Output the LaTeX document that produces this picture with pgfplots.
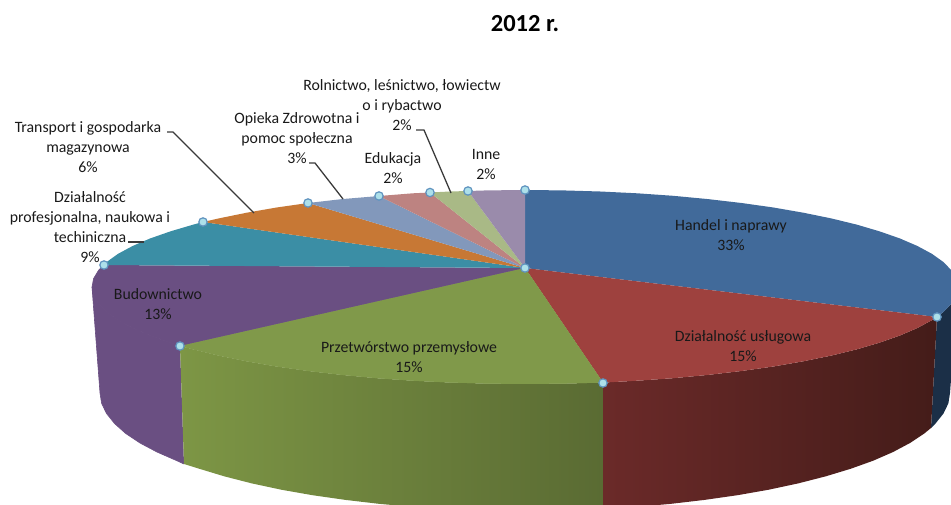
\documentclass[border=0pt]{standalone}
\usepackage{pgfplots}
\pgfplotsset{compat=1.18}
\usepackage{fontspec}
\setmainfont{Carlito}
\definecolor{cblue}{HTML}{416A9A}
\definecolor{cbluew}{HTML}{1B2F47}
\definecolor{cred}{HTML}{9E413E}
\definecolor{cgreen}{HTML}{80994A}
\definecolor{cpurple}{HTML}{6A4F82}
\definecolor{cteal}{HTML}{3B8EA5}
\definecolor{corange}{HTML}{C77835}
\definecolor{cbg}{HTML}{8298BB}
\definecolor{cpink}{HTML}{BD8381}
\definecolor{clg}{HTML}{A9B986}
\definecolor{cmauve}{HTML}{9A8BAB}
\definecolor{cmark}{HTML}{ADE0EA}
\definecolor{cmarkb}{HTML}{5F93BF}
\definecolor{lead}{HTML}{3A3A3A}
\begin{document}
\begin{tikzpicture}
\path[use as bounding box] (0,0) rectangle (951pt,505pt);
\begin{axis}[
  at={(0,0)}, anchor=south west,
  scale only axis, width=951pt, height=505pt,
  xmin=0, xmax=951, ymin=0, ymax=505, y dir=reverse,
  hide axis, clip=true,
  every axis plot/.append style={forget plot},
]
% --- walls
\addplot[draw=none, fill=cbluew] coordinates {(937,317)(943.2,312.1)(951.4,303.8)(956.4,295.5)(958,287)(950,393)(948.4,403.3)(943.5,413.5)(935.5,423.5)(931,428)};
\addplot[draw=cpurple, line width=0.6pt, fill=cpurple] coordinates {(180,346)(170.3,342.6)(150,335.5)(132.6,328)(118.1,320.2)(106.8,312.1)(98.6,303.8)(93.6,295.5)(92,287)(100,393)(101.6,403.3)(106.5,413.5)(114.5,423.5)(125.6,433.4)(139.8,442.9)(156.9,452)(176.8,460.7)(184,464)};
\addplot[draw=none, left color={rgb,255:red,125;green,150;blue,69}, right color={rgb,255:red,90;green,107;blue,51}] coordinates {(180,346)(193.3,349.4)(218.8,355.6)(246.7,361.3)(276.6,366.5)(308.5,371)(342,374.9)(376.9,378.2)(412.9,380.7)(449.8,382.5)(487.2,383.6)(525,384)(562.8,383.6)(603,382.6)(603,509)(562,510.6)(525,511)(488,510.6)(451.2,509.2)(415,507)(379.6,503.9)(345.4,499.9)(312.5,495.2)(281.2,489.7)(251.8,483.4)(224.5,476.4)(199.4,468.8)(184,464)};
\addplot[draw=none, left color={rgb,255:red,107;green,42;blue,41}, middle color={rgb,255:red,77;green,32;blue,30}, right color={rgb,255:red,68;green,28;blue,25}] coordinates {(603,382.6)(637.1,380.7)(673.1,378.2)(708,374.9)(741.5,371)(773.4,366.5)(803.3,361.3)(831.2,355.6)(856.7,349.4)(879.7,342.6)(900,335.5)(917.4,328)(931.9,320.2)(937,317)(931,428)(924.4,433.4)(910.2,442.9)(893.1,452)(873.2,460.7)(850.6,468.8)(825.5,476.4)(798.2,483.4)(768.8,489.7)(737.5,495.2)(704.6,499.9)(670.4,503.9)(635,507)(603,509)};
% --- top faces
\addplot[draw=none, fill=cblue] coordinates {(525,268)(937,317)(943.2,312.1)(951.4,303.8)(956.4,295.5)(958,287)(956.4,278.5)(951.4,270.2)(943.2,261.9)(931.9,253.8)(917.4,246)(900,238.5)(879.7,231.4)(856.7,224.6)(831.2,218.4)(803.3,212.7)(773.4,207.5)(741.5,203)(708,199.1)(673.1,195.8)(637.1,193.3)(600.2,191.5)(562.8,190.4)(525,190)};
\addplot[draw=none, fill=cred] coordinates {(525,268)(937,317)(931.9,320.2)(917.4,328)(900,335.5)(879.7,342.6)(856.7,349.4)(831.2,355.6)(803.3,361.3)(773.4,366.5)(741.5,371)(708,374.9)(673.1,378.2)(637.1,380.7)(603,382.6)};
\addplot[draw=none, fill=cgreen] coordinates {(525,268)(603,382.6)(562.8,383.6)(525,384)(487.2,383.6)(449.8,382.5)(412.9,380.7)(376.9,378.2)(342,374.9)(308.5,371)(276.6,366.5)(246.7,361.3)(218.8,355.6)(193.3,349.4)(180,346)};
\addplot[draw=cpurple, line width=0.6pt, fill=cpurple] coordinates {(525,268)(180,346)(170.3,342.6)(150,335.5)(132.6,328)(118.1,320.2)(106.8,312.1)(98.6,303.8)(93.6,295.5)(92,287)(93.6,278.5)(98.6,270.2)(104,265)};
\addplot[draw=none, fill=cgreen] coordinates {(525,268)(603,382.6)(562.8,383.6)(525,384)(487.2,383.6)(449.8,382.5)(412.9,380.7)(376.9,378.2)(342,374.9)(308.5,371)(276.6,366.5)(246.7,361.3)(218.8,355.6)(193.3,349.4)(180,346)};
\addplot[draw=none, fill=cteal] coordinates {(525,268)(104,265)(106.8,261.9)(118.1,253.8)(132.6,246)(150,238.5)(170.3,231.4)(193.3,224.6)(203,222)};
\addplot[draw=none, fill=corange] coordinates {(525,268)(203,222)(218.8,218.4)(246.7,212.7)(276.6,207.5)(308,203)};
\addplot[draw=none, fill=cbg] coordinates {(525,268)(308,203)(342,199.1)(379,196)};
\addplot[draw=none, fill=cpink] coordinates {(525,268)(379,196)(412.9,193.3)(430,192.5)};
\addplot[draw=none, fill=clg] coordinates {(525,268)(430,192.5)(449.8,191.5)(468,191)};
\addplot[draw=none, fill=cmauve] coordinates {(525,268)(468,191)(487.2,190.4)(525,190)};
% --- leader lines
\addplot[lead, line width=1.3pt] coordinates {(167,132)(173,132)(254,213)};
\addplot[lead, line width=1.3pt] coordinates {(128,242)(144,242)};
\addplot[lead, line width=1.3pt] coordinates {(309,163)(315,163)(343,199)};
\addplot[lead, line width=1.3pt] coordinates {(416,130)(424,130)(451,193)};
% --- selection markers
\addplot[only marks, mark=*, mark size=4.2pt, mark options={fill=cmark, draw=cmarkb, line width=1.2pt}] coordinates {(937,317)(603,383)(180,346)(104,265)(203,222)(308,203)(379,196)(430,192.5)(468,191)(525,190)(525,268)};
% --- texts
\tikzset{lab/.style={align=center, inner sep=0pt, text=black!90, font=\fontsize{15.8}{20}\selectfont}}
\node[font=\fontsize{24.5}{28}\bfseries\selectfont, inner sep=0pt] at (axis cs:525,24) {2012 r.};
\node[lab] at (axis cs:731,235) {Handel i naprawy\\33\%};
\node[lab] at (axis cs:743,346) {Działalność usługowa\\15\%};
\node[lab] at (axis cs:409,357) {Przetwórstwo przemysłowe\\15\%};
\node[lab] at (axis cs:158,304) {Budownictwo\\13\%};
\node[lab] at (axis cs:90,227) {Działalność\\profesjonalna, naukowa i\\techiniczna\\9\%};
\node[lab] at (axis cs:88,147) {Transport i gospodarka\\magazynowa\\6\%};
\node[lab] at (axis cs:297,138) {Opieka Zdrowotna i\\pomoc społeczna\\3\%};
\node[lab] at (axis cs:393,168) {Edukacja\\2\%};
\node[lab] at (axis cs:402,105) {Rolnictwo, leśnictwo, łowiectw\\o i rybactwo\\2\%};
\node[lab] at (axis cs:486,164) {Inne\\2\%};
\end{axis}
\end{tikzpicture}
\end{document}
